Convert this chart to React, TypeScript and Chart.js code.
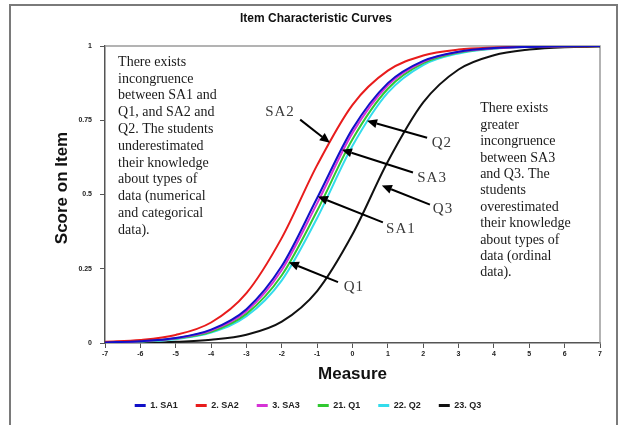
import React, { useEffect, useRef } from "react";
import { Chart, registerables } from "chart.js";

Chart.register(...registerables);

// ---- data ----
const X_VALUES = [-7, -6, -5, -4, -3, -2, -1, 0, 1, 2, 3, 4, 5, 6, 7];
const Y_TICKS = [0, 0.25, 0.5, 0.75, 1];
const Y_TICK_LABELS = ["0", "0.25", "0.5", "0.75", "1"];
const SERIES_NAMES = ["1. SA1", "2. SA2", "3. SA3", "21. Q1", "22. Q2", "23. Q3"];
const SA1 = [0.002, 0.006, 0.017, 0.045, 0.114, 0.259, 0.488, 0.721, 0.875, 0.95, 0.981, 0.993, 0.997, 0.999, 1.0];
const SA2 = [0.004, 0.01, 0.027, 0.069, 0.168, 0.354, 0.599, 0.802, 0.917, 0.968, 0.988, 0.995, 0.998, 0.999, 1.0];
const SA3 = [0.002, 0.006, 0.016, 0.042, 0.107, 0.246, 0.47, 0.707, 0.868, 0.947, 0.98, 0.992, 0.997, 0.999, 1.0];
const Q1 = [0.002, 0.005, 0.015, 0.038, 0.098, 0.228, 0.445, 0.686, 0.856, 0.942, 0.978, 0.992, 0.997, 0.999, 1.0];
const Q2 = [0.002, 0.005, 0.013, 0.035, 0.09, 0.211, 0.421, 0.664, 0.843, 0.936, 0.975, 0.991, 0.997, 0.999, 1.0];
const Q3 = [0.001, 0.001, 0.004, 0.011, 0.028, 0.072, 0.175, 0.366, 0.611, 0.81, 0.921, 0.969, 0.988, 0.996, 0.998];
const SERIES_VALUES = [SA1, SA2, SA3, Q1, Q2, Q3];
const SERIES_COLORS = ["#1010c8", "#e81c1c", "#d632d6", "#30c830", "#33dcec", "#111111"];

const TITLE = "Item Characteristic Curves";
const X_TITLE = "Measure";
const Y_TITLE = "Score on Item";

// ---- annotations (in data units) ----
const LEFT_NOTE = [
  "There exists",
  "incongruence",
  "between SA1 and",
  "Q1, and SA2 and",
  "Q2. The students",
  "underestimated",
  "their knowledge",
  "about types of",
  "data (numerical",
  "and categorical",
  "data).",
];
const RIGHT_NOTE = [
  "There exists",
  "greater",
  "incongruence",
  "between SA3",
  "and Q3. The",
  "students",
  "overestimated",
  "their knowledge",
  "about types of",
  "data (ordinal",
  "data).",
];
const LEFT_NOTE_AT = [-6.63, 0.946];
const RIGHT_NOTE_AT = [3.61, 0.789];
const ARROW_LABELS = ["SA2", "Q2", "SA3", "Q3", "SA1", "Q1"];
const ARROW_LABEL_X = [-2.05, 2.53, 2.25, 2.56, 1.37, 0.04];
const ARROW_LABEL_Y = [0.778, 0.674, 0.554, 0.45, 0.383, 0.188];
const ARROW_FROM_X = [-1.48, 2.11, 1.71, 2.19, 0.86, -0.41];
const ARROW_FROM_Y = [0.752, 0.691, 0.574, 0.466, 0.406, 0.205];
const ARROW_TO_X = [-0.64, 0.41, -0.3, 0.83, -0.98, -1.8];
const ARROW_TO_Y = [0.674, 0.748, 0.651, 0.53, 0.493, 0.272];

const SANS = 'Arial, "Liberation Sans", sans-serif';
const SERIF = '"Times New Roman", "Liberation Serif", serif';

const overlay = {
  id: "overlay",
  beforeDatasetsDraw(chart: any) {
    const { ctx, chartArea: a } = chart;
    ctx.save();
    ctx.strokeStyle = "#9a9a9a";
    ctx.lineWidth = 1.5;
    ctx.beginPath();
    ctx.moveTo(a.left, a.top);
    ctx.lineTo(a.right, a.top);
    ctx.lineTo(a.right, a.bottom);
    ctx.stroke();
    ctx.restore();
  },
  afterDraw(chart: any) {
    const { ctx, chartArea: a } = chart;
    const xs = chart.scales.x;
    const ys = chart.scales.y;
    const px = (v: number) => xs.getPixelForValue(v);
    const py = (v: number) => ys.getPixelForValue(v);
    ctx.save();
    // outer frame
    ctx.strokeStyle = "#7a7a7a";
    ctx.lineWidth = 2;
    ctx.beginPath();
    ctx.moveTo(10, 425);
    ctx.lineTo(10, 5);
    ctx.lineTo(617, 5);
    ctx.lineTo(617, 425);
    ctx.stroke();

    // title
    ctx.fillStyle = "#111";
    ctx.textAlign = "center";
    ctx.textBaseline = "middle";
    ctx.font = `bold 12px ${SANS}`;
    ctx.fillText(TITLE, 316, 19);

    // axis titles
    ctx.font = `bold 17px ${SANS}`;
    ctx.fillText(X_TITLE, (a.left + a.right) / 2, 374);
    ctx.save();
    ctx.translate(62, 188);
    ctx.rotate(-Math.PI / 2);
    ctx.fillText(Y_TITLE, 0, 0);
    ctx.restore();

    // notes
    ctx.fillStyle = "#1a1a1a";
    ctx.textAlign = "left";
    ctx.font = `14px ${SERIF}`;
    LEFT_NOTE.forEach((t, i) => ctx.fillText(t, px(LEFT_NOTE_AT[0]), py(LEFT_NOTE_AT[1]) + i * 16.8));
    RIGHT_NOTE.forEach((t, i) => ctx.fillText(t, px(RIGHT_NOTE_AT[0]), py(RIGHT_NOTE_AT[1]) + i * 16.4));

    // arrows
    ctx.strokeStyle = "#000";
    ctx.fillStyle = "#000";
    ctx.lineWidth = 2;
    ARROW_LABELS.forEach((lab, i) => {
      const fx = px(ARROW_FROM_X[i]);
      const fy = py(ARROW_FROM_Y[i]);
      const tx = px(ARROW_TO_X[i]);
      const ty = py(ARROW_TO_Y[i]);
      const ang = Math.atan2(ty - fy, tx - fx);
      const hl = 10;
      const hw = 4.5;
      const bx = tx - hl * Math.cos(ang);
      const by = ty - hl * Math.sin(ang);
      ctx.beginPath();
      ctx.moveTo(fx, fy);
      ctx.lineTo(bx, by);
      ctx.stroke();
      ctx.beginPath();
      ctx.moveTo(tx, ty);
      ctx.lineTo(bx + hw * Math.sin(ang), by - hw * Math.cos(ang));
      ctx.lineTo(bx - hw * Math.sin(ang), by + hw * Math.cos(ang));
      ctx.closePath();
      ctx.fill();
    });
    ctx.fillStyle = "#3a3a3a";
    ctx.textAlign = "center";
    ctx.font = `15px ${SERIF}`;
    (ctx as any).letterSpacing = "1px";
    ARROW_LABELS.forEach((lab, i) => {
      ctx.fillText(lab, px(ARROW_LABEL_X[i]), py(ARROW_LABEL_Y[i]));
    });
    ctx.restore();
  },
};

export default function App() {
  const ref = useRef<HTMLCanvasElement>(null);
  useEffect(() => {
    const datasets = SERIES_NAMES.map((name, i) => ({
      label: name,
      data: X_VALUES.map((x, j) => ({ x, y: SERIES_VALUES[i][j] })),
      borderColor: SERIES_COLORS[i],
      backgroundColor: SERIES_COLORS[i],
      borderWidth: 2,
      pointRadius: 0,
      cubicInterpolationMode: "monotone" as const,
      fill: false,
    }));
    const chart = new Chart(ref.current!, {
      type: "line",
      data: { datasets },
      plugins: [overlay],
      options: {
        responsive: false,
        devicePixelRatio: 1,
        animation: false,
        layout: { padding: { left: 16, top: 46, right: 26, bottom: 5 } },
        plugins: {
          title: { display: false },
          tooltip: { enabled: false },
          legend: {
            display: true,
            position: "bottom",
            labels: {
              boxWidth: 11,
              boxHeight: 3,
              padding: 18,
              color: "#222",
              font: { family: SANS, size: 9, weight: "bold" },
              generateLabels: (c: any) =>
                Chart.defaults.plugins.legend.labels.generateLabels(c).map((l: any) => ({ ...l, lineWidth: 0 })),
            },
          },
        },
        scales: {
          x: {
            type: "linear",
            min: -7,
            max: 7,
            afterFit: (s: any) => {
              s.height = 40;
            },
            ticks: {
              stepSize: 1,
              color: "#222",
              padding: 2,
              maxRotation: 0,
              font: { family: SANS, size: 7, weight: "bold" },
            },
            grid: { drawOnChartArea: false, drawTicks: true, tickLength: 5, color: "#555" },
            border: { color: "#555", width: 1.5 },
          },
          y: {
            type: "linear",
            min: 0,
            max: 1,
            afterFit: (s: any) => {
              s.width = 89;
            },
            afterBuildTicks: (s: any) => {
              s.ticks = Y_TICKS.map((v) => ({ value: v }));
            },
            ticks: {
              color: "#222",
              padding: 8,
              font: { family: SANS, size: 7, weight: "bold" },
              callback: (v: any) => {
                const k = Y_TICKS.indexOf(Number(v));
                return k >= 0 ? Y_TICK_LABELS[k] : "";
              },
            },
            grid: { drawOnChartArea: false, drawTicks: true, tickLength: 5, color: "#555" },
            border: { color: "#555", width: 1.5 },
          },
        },
      },
    } as any);
    return () => chart.destroy();
  }, []);
  return (
    <div style={{ position: "fixed", left: 0, top: 0, width: 626, height: 425, background: "#fff" }}>
      <canvas ref={ref} width={626} height={425} style={{ display: "block", width: 626, height: 425 }} />
    </div>
  );
}
